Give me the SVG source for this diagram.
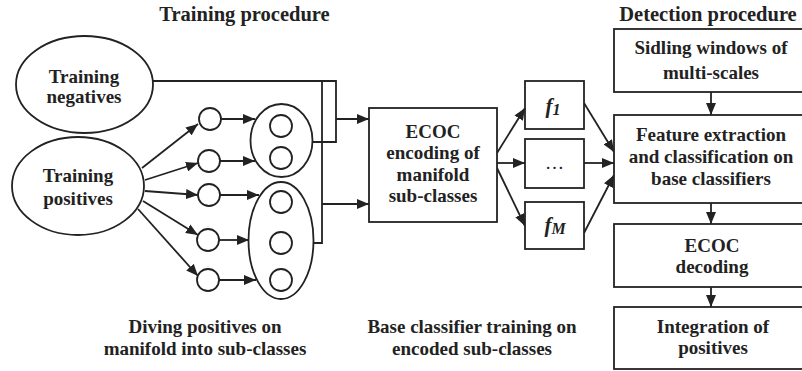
<svg xmlns="http://www.w3.org/2000/svg" width="802" height="371" viewBox="0 0 802 371">
  <style>
    .shape { fill: #fff; stroke: #222; stroke-width: 1.8; }
    .wire { fill: none; stroke: #222; stroke-width: 1.8; }
    .arrow { marker-end: url(#ah); }
    text { font-family: "Liberation Serif", "Times New Roman", serif; font-weight: bold; font-size: 19px; fill: #222; text-anchor: middle; }
    .head { font-size: 20.5px; }
    .fn { font-style: italic; font-size: 21px; }
  </style>
  <defs>
    <marker id="ah" markerUnits="userSpaceOnUse" markerWidth="13" markerHeight="10" refX="12" refY="5" orient="auto">
      <path d="M0,0 L12,5 L0,10 z" fill="#222"/>
    </marker>
  </defs>

  <rect width="802" height="371" fill="#fff"/>

  <!-- section titles -->
  <g id="titles">
    <text class="head" x="244.5" y="21">Training procedure</text>
    <text class="head" x="708" y="21">Detection procedure</text>
    <text x="205" y="333">Diving positives on</text>
    <text x="205" y="355">manifold into sub-classes</text>
    <text x="472" y="333">Base classifier training on</text>
    <text x="472" y="355">encoded sub-classes</text>
  </g>

  <!-- connectors -->
  <g id="connectors">
    <!-- positives fan out to manifold samples -->
    <line class="wire arrow" x1="142" y1="168" x2="198" y2="124"/>
    <line class="wire arrow" x1="145" y1="180" x2="198" y2="163"/>
    <line class="wire arrow" x1="145" y1="191" x2="198" y2="195"/>
    <line class="wire arrow" x1="143" y1="201" x2="198" y2="235"/>
    <line class="wire arrow" x1="138" y1="209" x2="198" y2="276"/>
    <!-- samples into sub-classes -->
    <line class="wire arrow" x1="221" y1="119" x2="255" y2="119"/>
    <line class="wire arrow" x1="220" y1="161" x2="255" y2="161"/>
    <line class="wire arrow" x1="220" y1="195" x2="259" y2="195"/>
    <line class="wire arrow" x1="219" y1="240" x2="249" y2="240"/>
    <line class="wire arrow" x1="219" y1="280" x2="256" y2="280"/>
    <!-- negatives and sub-classes bus to ECOC encoding -->
    <polyline class="wire" points="153,81 336,81 336,142 312,142"/>
    <polyline class="wire" points="322,81 322,243 313,243"/>
    <line class="wire arrow" x1="336" y1="119" x2="369" y2="119"/>
    <line class="wire arrow" x1="322" y1="204" x2="369" y2="204"/>
    <!-- encoding to base classifiers -->
    <line class="wire arrow" x1="497" y1="153" x2="525" y2="108"/>
    <line class="wire arrow" x1="497" y1="163" x2="525" y2="163"/>
    <line class="wire arrow" x1="497" y1="168" x2="525" y2="226"/>
    <!-- base classifiers to feature extraction -->
    <line class="wire arrow" x1="584" y1="103" x2="614" y2="152"/>
    <line class="wire arrow" x1="584" y1="163" x2="614" y2="163"/>
    <line class="wire arrow" x1="584" y1="233" x2="614" y2="175"/>
    <!-- detection chain -->
    <line class="wire arrow" x1="711" y1="92" x2="711" y2="115"/>
    <line class="wire arrow" x1="711" y1="203" x2="711" y2="224"/>
    <line class="wire arrow" x1="711" y1="287" x2="711" y2="307"/>
  </g>

  <g id="training-negatives">
    <ellipse class="shape" cx="84.5" cy="84.5" rx="68.5" ry="48.5"/>
    <text x="84" y="83">Training</text>
    <text x="84" y="103">negatives</text>
  </g>

  <g id="training-positives">
    <ellipse class="shape" cx="78" cy="186" rx="66" ry="49"/>
    <text x="78" y="182">Training</text>
    <text x="78" y="205">positives</text>
  </g>

  <g id="samples">
    <circle class="shape" cx="210" cy="119" r="11"/>
    <circle class="shape" cx="209" cy="161" r="11"/>
    <circle class="shape" cx="209" cy="195" r="11"/>
    <circle class="shape" cx="208" cy="240" r="11"/>
    <circle class="shape" cx="208" cy="280" r="11"/>
  </g>

  <g id="subclass-1">
    <ellipse class="shape" cx="281.5" cy="140.5" rx="31" ry="36.5"/>
    <circle class="shape" cx="281" cy="126" r="11"/>
    <circle class="shape" cx="281" cy="158" r="11"/>
  </g>

  <g id="subclass-2">
    <ellipse class="shape" cx="281" cy="240.5" rx="32.5" ry="58.5"/>
    <circle class="shape" cx="281" cy="202" r="11"/>
    <circle class="shape" cx="281" cy="243" r="11"/>
    <circle class="shape" cx="281" cy="280" r="11"/>
  </g>

  <g id="ecoc-encoding">
    <rect class="shape" x="369" y="108" width="128" height="114"/>
    <text x="433" y="137.5">ECOC</text>
    <text x="433" y="159">encoding of</text>
    <text x="433" y="180.5">manifold</text>
    <text x="433" y="202">sub-classes</text>
  </g>

  <g id="classifier-f1">
    <rect class="shape" x="525" y="81" width="59" height="48"/>
    <text class="fn" x="553" y="113">f<tspan font-size="16" dy="2">1</tspan></text>
  </g>

  <g id="classifier-more">
    <rect class="shape" x="525" y="139" width="59" height="49"/>
    <text x="554.5" y="169" style="font-weight:normal">…</text>
  </g>

  <g id="classifier-fM">
    <rect class="shape" x="525" y="202" width="59" height="47"/>
    <text class="fn" x="555" y="232">f<tspan font-size="16" dy="2">M</tspan></text>
  </g>

  <g id="sliding-windows">
    <rect class="shape" x="614" y="29" width="200" height="63"/>
    <text x="711" y="54">Sidling windows of</text>
    <text x="711" y="79">multi-scales</text>
  </g>

  <g id="feature-extraction">
    <rect class="shape" x="614" y="115" width="200" height="88"/>
    <text x="711" y="141">Feature extraction</text>
    <text x="711" y="163">and classification on</text>
    <text x="711" y="185">base classifiers</text>
  </g>

  <g id="ecoc-decoding">
    <rect class="shape" x="614" y="224" width="200" height="63"/>
    <text x="712" y="252">ECOC</text>
    <text x="712" y="273">decoding</text>
  </g>

  <g id="integration">
    <rect class="shape" x="614" y="307" width="200" height="62"/>
    <text x="713" y="333">Integration of</text>
    <text x="713" y="354">positives</text>
  </g>
</svg>
